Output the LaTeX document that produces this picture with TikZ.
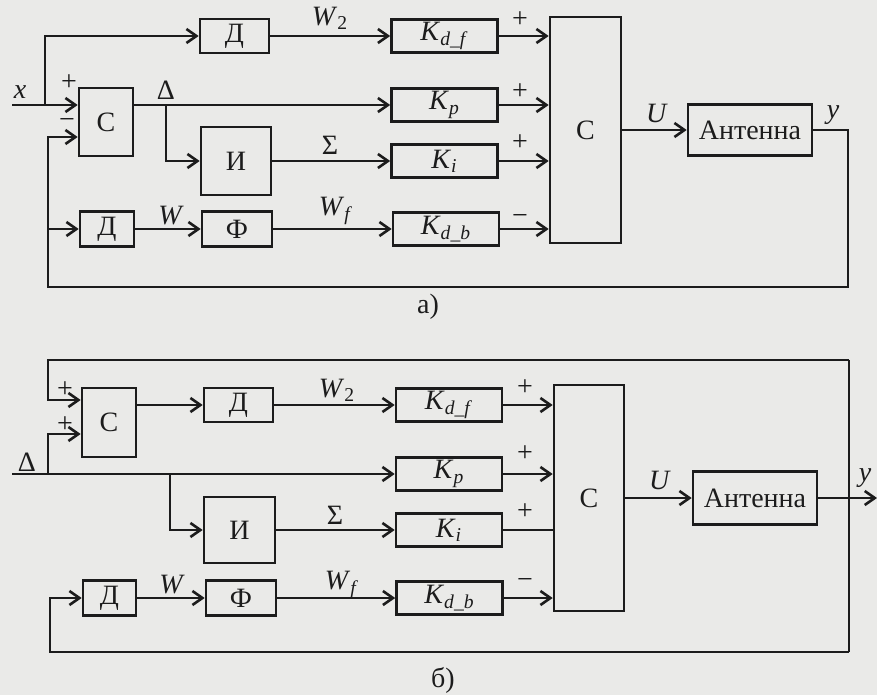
\documentclass[tikz,border=0pt]{standalone}
\usepackage{fontspec}
\setmainfont{Liberation Serif}
\usetikzlibrary{arrows.meta, positioning, calc}
\definecolor{paper}{RGB}{234,234,232}
\definecolor{ink}{RGB}{28,28,28}
\newcommand{\gain}[1]{\textit{K}\textsubscript{\textit{#1}}}
\tikzset{
  blk/.style={draw=ink, line width=1.3pt, inner sep=0pt, text=ink, font=\fontsize{14}{16}\selectfont},
  gainbox/.style={blk, minimum width=53pt, minimum height=16.5pt},
  sig/.style={draw=ink, line width=1.3pt},
  arr/.style={sig, -{Straight Barb[length=5pt,width=7pt]}},
  lbl/.style={inner sep=0pt, text=ink, font=\fontsize{14}{16}\selectfont}
}

\begin{document}
\begin{tikzpicture}[x=0.5pt, y=-0.5pt]
\fill[paper] (0,0) rectangle (877,695);
\useasboundingbox (0,0) rectangle (877,695);

% --- a) ---
\node[blk, minimum width=27pt, minimum height=34pt] (sa) at (106,122) {С};
\node[blk, minimum width=34.5pt, minimum height=17pt] (da2) at (234.5,36) {Д};
\node[blk, minimum width=35pt, minimum height=34pt] (ia) at (236,161) {И};
\node[blk, minimum width=27pt, minimum height=17.5pt] (da) at (107,229) {Д};
\node[blk, minimum width=35pt, minimum height=17.5pt] (fa) at (237,229) {Ф};
\node[gainbox] (kdfa) at (444.5,36) {\gain{d\_f}};
\node[gainbox] (kpa) at (444.5,105) {\gain{p}};
\node[gainbox] (kia) at (444.5,161) {\gain{i}};
\node[gainbox] (kdba) at (446,229) {\gain{d\_b}};
\node[blk, minimum width=35.5pt, minimum height=113pt] (suma) at (585.5,130) {С};
\node[blk, minimum width=62pt, minimum height=25.5pt] (anta) at (750,130) {Антенна};

\coordinate (xin) at (12,105);
\coordinate (xa) at (45,105);
\coordinate (dlta) at (166,105);
\coordinate (fba) at (848,130);
\coordinate (fbb) at (848,287);
\coordinate (fbc) at (48,287);
\coordinate (fbd) at (48,229);
\coordinate (fbe) at (48,137);

\draw[arr] (xin) -- (xin -| sa.west);
\draw[arr] (xa) |- (da2.west);
\draw[arr] (sa.east |- xin) -- (kpa.west);
\draw[arr] (dlta) |- (ia.west);
\draw[arr] (da2.east) -- (kdfa.west);
\draw[arr] (ia.east) -- (kia.west);
\draw[arr] (da.east) -- (fa.west);
\draw[arr] (fa.east) -- (kdba.west);
\foreach \k in {kdfa,kpa,kia,kdba}
  \draw[arr] (\k.east) -- (\k.east -| suma.west);
\draw[arr] (suma.east |- anta.west) -- (anta.west);
\draw[arr] (anta.east) -- (fba) -- (fbb) -- (fbc) -- (fbe) -- (fbe -| sa.west);
\draw[arr] (fbd) -- (da.west);

\node[lbl] (lxa) at (20,92) {\textit{x}};
\node[lbl] (pa1) at (69,83) {+};
\node[lbl] (ma1) at (67,124) {−};
\node[lbl] (lda) at (166,90) {Δ};
\node[lbl] (lw2a) at (330,18) {\textit{W}\textsubscript{2}};
\node[lbl] (lsa) at (330,145) {Σ};
\node[lbl] (lwa) at (171,216) {\textit{W}};
\node[lbl] (lwfa) at (336,211) {\textit{W}\textsubscript{\textit{f}}};
\node[lbl] (pa2) at (520,20) {+};
\node[lbl] (pa3) at (520,92) {+};
\node[lbl] (pa4) at (520,143) {+};
\node[lbl] (ma2) at (520,220) {−};
\node[lbl] (lua) at (657,113) {\textit{U}};
\node[lbl] (lya) at (833,115) {\textit{y}};
\node[lbl] (capa) at (428,307) {а)};

% --- б) ---
\node[blk, minimum width=27pt, minimum height=34.5pt] (sb) at (109,422.5) {С};
\node[blk, minimum width=34.5pt, minimum height=17pt] (db2) at (238.5,405) {Д};
\node[blk, minimum width=35.5pt, minimum height=33pt] (ib) at (239.5,530) {И};
\node[blk, minimum width=26.5pt, minimum height=17.5pt] (db) at (109.5,598) {Д};
\node[blk, minimum width=35pt, minimum height=17.5pt] (fb) at (241,598) {Ф};
\node[gainbox] (kdfb) at (449,405) {\gain{d\_f}};
\node[gainbox] (kpb) at (449,474) {\gain{p}};
\node[gainbox] (kib) at (449,530) {\gain{i}};
\node[gainbox] (kdbb) at (449.5,598) {\gain{d\_b}};
\node[blk, minimum width=35pt, minimum height=113pt] (sumb) at (589,498) {С};
\node[blk, minimum width=62pt, minimum height=26.5pt] (antb) at (755,498) {Антенна};

\coordinate (dlin) at (12,474);
\coordinate (jd1) at (48,474);
\coordinate (jd2) at (48,434);
\coordinate (jd3) at (170,474);
\coordinate (yout) at (877,498);
\coordinate (jtr) at (849,360);
\coordinate (jtl) at (48,360);
\coordinate (jp1) at (48,400);
\coordinate (jbr) at (849,652);
\coordinate (jbl) at (50,652);
\coordinate (jdb) at (50,598);

\draw[arr] (dlin) -- (kpb.west);
\draw[arr] (jd1) -- (jd2) -- (jd2 -| sb.west);
\draw[arr] (jd3) |- (ib.west);
\draw[arr] (sb.east |- db2.west) -- (db2.west);
\draw[arr] (db2.east) -- (kdfb.west);
\draw[arr] (ib.east) -- (kib.west);
\draw[arr] (db.east) -- (fb.west);
\draw[arr] (fb.east) -- (kdbb.west);
\foreach \k in {kdfb,kpb,kdbb}
  \draw[arr] (\k.east) -- (\k.east -| sumb.west);
\draw[sig] (kib.east) -- (kib.east -| sumb.west);
\draw[arr] (sumb.east |- antb.west) -- (antb.west);
\draw[arr] (antb.east) -- (yout);
\draw[sig] (jtr) -- (jbr);
\draw[arr] (jtr) -- (jtl) -- (jp1) -- (jp1 -| sb.west);
\draw[arr] (jbr) -- (jbl) -- (jdb) -- (db.west);

\node[lbl] (pb1) at (65,390) {+};
\node[lbl] (pb2) at (65,425) {+};
\node[lbl] (ldb) at (27,462) {Δ};
\node[lbl] (lw2b) at (337,390) {\textit{W}\textsubscript{2}};
\node[lbl] (lsb) at (335,515) {Σ};
\node[lbl] (lwb) at (172,585) {\textit{W}};
\node[lbl] (lwfb) at (342,585) {\textit{W}\textsubscript{\textit{f}}};
\node[lbl] (pb3) at (525,388) {+};
\node[lbl] (pb4) at (525,454) {+};
\node[lbl] (pb5) at (525,512) {+};
\node[lbl] (mb1) at (525,583) {−};
\node[lbl] (lub) at (660,480) {\textit{U}};
\node[lbl] (lyb) at (865,478) {\textit{y}};
\node[lbl] (capb) at (443,680) {б)};
\end{tikzpicture}
\end{document}
